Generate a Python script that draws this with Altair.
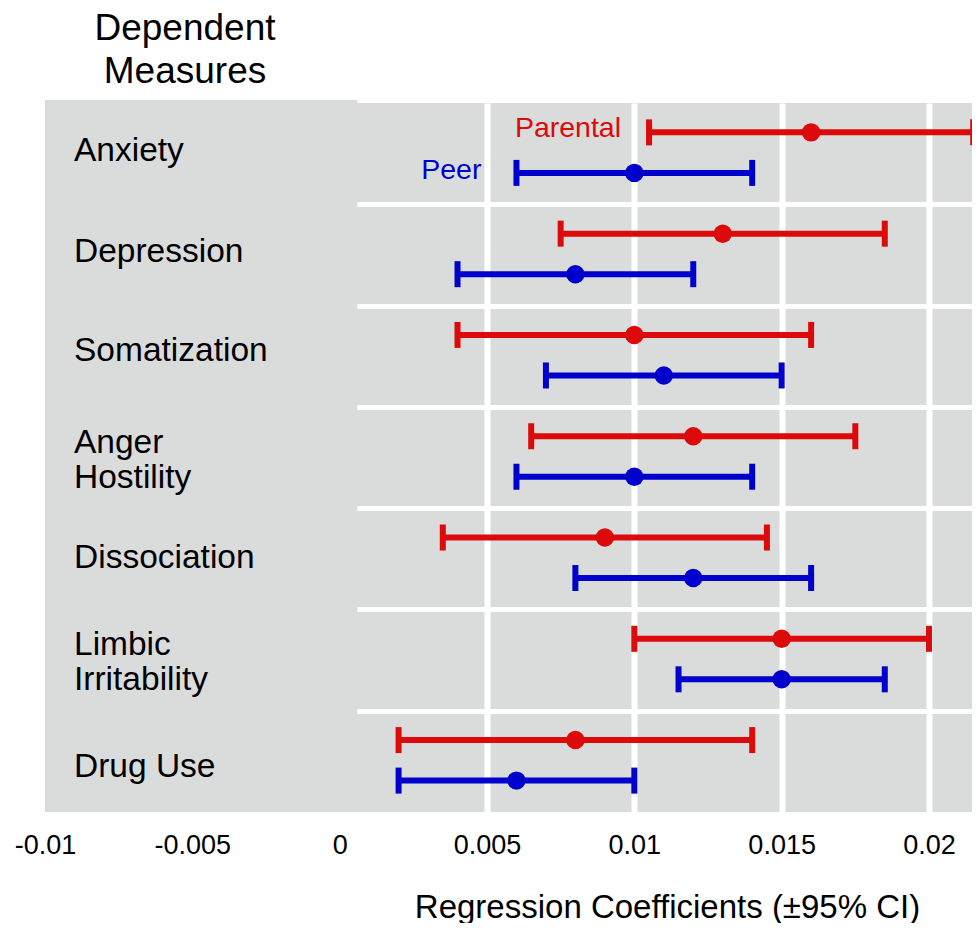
import altair as alt
import pandas as pd

# ---- data ----
measures = ["Anxiety", "Depression", "Somatization", "Anger\nHostility",
            "Dissociation", "Limbic\nIrritability", "Drug Use"]
parental_coef = [0.016, 0.013, 0.010, 0.012, 0.009, 0.015, 0.008]
parental_lower = [0.0105, 0.0075, 0.004, 0.0065, 0.0035, 0.010, 0.002]
parental_upper = [0.0215, 0.0185, 0.016, 0.0175, 0.0145, 0.020, 0.014]
peer_coef = [0.010, 0.008, 0.011, 0.010, 0.012, 0.015, 0.006]
peer_lower = [0.006, 0.004, 0.007, 0.006, 0.008, 0.0115, 0.002]
peer_upper = [0.014, 0.012, 0.015, 0.014, 0.016, 0.0185, 0.010]
sources = ["Parental", "Peer"]
x_ticks = [-0.01, -0.005, 0, 0.005, 0.01, 0.015, 0.02]
x_domain = [-0.01, 0.02146]
label_panel = [-0.01, 0.0006]
axis_title = "Regression Coefficients (\u00b195% CI)"
panel_title = "Dependent\nMeasures"

# ---- styles ----
colors = ["#dc0a0a", "#0000cc"]
gray = "#dadcdc"
row_offset = {"Parental": 0.29, "Peer": 0.69}
label_shift_px = [0, 0, -2, -2, 2, -2, 9]   # vertical nudge of each row label
W, H = 927, 709
ROW_PX = H / len(measures)
FONT = "Liberation Sans"

rows = []
for i, m in enumerate(measures):
    for s, c, lo, hi in (("Parental", parental_coef, parental_lower, parental_upper),
                         ("Peer", peer_coef, peer_lower, peer_upper)):
        rows.append({"measure": m, "idx": i, "source": s, "coef": c[i],
                     "lower": lo[i], "upper": hi[i], "pos": i + row_offset[s]})
df = pd.DataFrame(rows)

xs = alt.Scale(domain=x_domain, nice=False, zero=False)
ys = alt.Scale(domain=[0, len(measures)], reverse=True, nice=False, zero=False)
color = alt.Color("source:N", scale=alt.Scale(domain=sources, range=colors), legend=None)

x_axis = alt.Axis(values=x_ticks, grid=True, gridColor="white", gridWidth=6,
                  gridOpacity=1, domain=False, ticks=False, labelFlush=False,
                  labelOverlap=False, labelExpr="'' + datum.value",
                  labelFontSize=27, labelColor="black", labelPadding=20,
                  title=axis_title, titleFontSize=33, titleFontWeight="normal",
                  titleColor="black", titleX=622, titleY=105, titleAlign="center",
                  titleBaseline="alphabetic")
y_axis = alt.Axis(values=list(range(1, len(measures))), grid=True, gridColor="white",
                  gridWidth=5, gridOpacity=1, labels=False, ticks=False,
                  domain=False, title=None)

X = lambda f: alt.X(f, scale=xs, axis=x_axis, title=axis_title)
Y = lambda f: alt.Y(f, scale=ys, axis=y_axis, title=None)

base = alt.Chart(df)

bars = base.mark_rule(strokeWidth=6).encode(
    x=X("lower:Q"), x2="upper:Q", y=Y("pos:Q"), color=color)
cap_lo = base.mark_tick(orient="vertical", size=26, thickness=6, opacity=1).encode(
    x=X("lower:Q"), y=Y("pos:Q"), color=color)
cap_hi = base.mark_tick(orient="vertical", size=26, thickness=6, opacity=1).encode(
    x=X("upper:Q"), y=Y("pos:Q"), color=color)
dots = base.mark_circle(size=340, opacity=1).encode(
    x=X("coef:Q"), y=Y("pos:Q"), color=color)

panel = alt.Chart(pd.DataFrame({"x": [label_panel[0]], "x2": [label_panel[1]]})).mark_rect(
    color=gray).encode(
    x=X("x:Q"), x2="x2:Q", y=alt.value(-3), y2=alt.value(H))

labels_df = pd.DataFrame({"measure": measures,
                          "pos": [i + 0.5 + label_shift_px[i] / ROW_PX
                                  for i in range(len(measures))]})
labels_df["lines"] = labels_df["measure"].str.count("\n") + 1
row_labels_1 = alt.Chart(labels_df[labels_df["lines"] == 1]).mark_text(
    align="left", baseline="middle", dx=29, dy=-3, fontSize=33.5,
    color="black").encode(
    x=alt.datum(x_domain[0]), y=Y("pos:Q"), text="measure:N")
row_labels_2 = alt.Chart(labels_df[labels_df["lines"] == 2]).mark_text(
    align="left", baseline="middle", dx=29, dy=-13, fontSize=33.5,
    lineBreak="\n", lineHeight=35, color="black").encode(
    x=alt.datum(x_domain[0]), y=Y("pos:Q"), text="measure:N")

first = df[df["idx"] == 0]
leg_par = alt.Chart(first[first["source"] == "Parental"]).mark_text(
    align="right", baseline="middle", dx=-28, dy=-4, fontSize=28.5).encode(
    x=X("lower:Q"), y=Y("pos:Q"), text="source:N", color=color)
leg_peer = alt.Chart(first[first["source"] == "Peer"]).mark_text(
    align="right", baseline="middle", dx=-35, dy=-3, fontSize=28.5).encode(
    x=X("lower:Q"), y=Y("pos:Q"), text="source:N", color=color)

title = alt.Chart(pd.DataFrame({"t": [panel_title]})).mark_text(
    align="center", baseline="middle", fontSize=37, lineBreak="\n",
    lineHeight=43, color="black").encode(
    x=alt.value(140), y=alt.value(-74), text="t:N")

chart = alt.layer(bars, panel, cap_lo, cap_hi, dots, row_labels_1, row_labels_2,
                  leg_par, leg_peer, title).properties(
    width=W, height=H,
    padding={"left": 37, "top": 95, "right": 0, "bottom": 111},
    autosize=alt.AutoSizeParams(type="none"),
).configure(font=FONT).configure_view(fill=gray, strokeWidth=0)

chart.save("out.html", embed_options={"renderer": "svg", "actions": False})
